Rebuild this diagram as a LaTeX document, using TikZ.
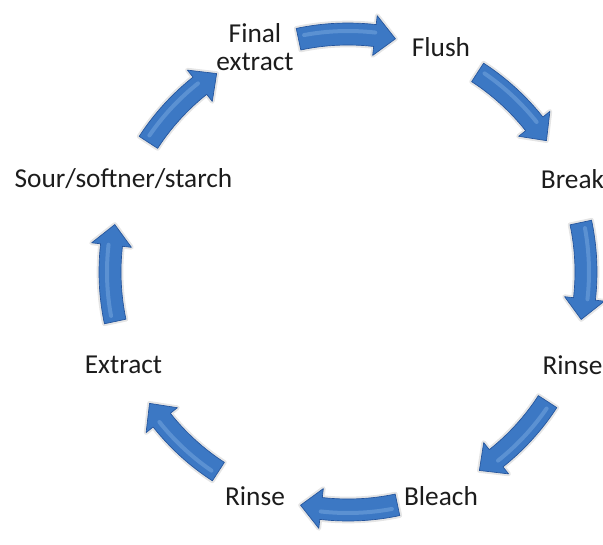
\documentclass[tikz,border=0pt]{standalone}
\usepackage{fontspec}
\setmainfont{Carlito}

\definecolor{arrowblue}{RGB}{60,120,196}
\definecolor{arrowdark}{RGB}{36,84,156}
\definecolor{arrowlight}{RGB}{150,192,238}
\definecolor{labeltext}{RGB}{28,28,28}

\tikzset{
  steplabel/.style={text=labeltext, font=\fontsize{20.5}{21}\selectfont, align=center, inner sep=0pt},
  arrowbody/.style={fill=arrowblue, draw=arrowdark, line width=0.5pt, line join=round},
  arrowglow/.style={draw=black!10, line width=3.5pt, line join=round},
  arrowshine/.style={draw=arrowlight, line width=3pt, opacity=0.35, line cap=round},
}

% outline of one curved block arrow (start, head base, tip angles)
\newcommand{\arrowoutline}{%
  (\as:249) arc[start angle=\as, end angle=\ah, radius=249] -- (\ah:258) -- (\at:238)
  -- (\ah:218) -- (\ah:227) arc[start angle=\ah, end angle=\as, radius=227] -- cycle}

% curved block arrow centred on angle #1, running clockwise
\newcommand{\cyclearrow}[1]{%
  \pgfmathsetmacro{\as}{#1+12}%
  \pgfmathsetmacro{\ah}{#1-6.5}%
  \pgfmathsetmacro{\at}{#1-11.5}%
  \pgfmathsetmacro{\am}{#1+10.5}%
  \path[arrowglow] \arrowoutline;
  \path[arrowbody] \arrowoutline;
  \path[arrowshine] (\am:241) arc[start angle=\am, end angle=\ah, radius=241];
}

\begin{document}
\begin{tikzpicture}[x=0.75pt, y=0.75pt]
  \useasboundingbox (-348,-272) rectangle (255,272);

  % the eight stages
  \node [steplabel] (final)   at (112.5:243) {Final\\extract};
  \node [steplabel] (flush)   at (67.5:243)  {Flush};
  \node [steplabel] (break)   at (22.5:243)  {Break};
  \node [steplabel] (rinseA)  at (-22.5:243) {Rinse};
  \node [steplabel] (bleach)  at (-67.5:243) {Bleach};
  \node [steplabel] (rinseB)  at (-112.5:243) {Rinse};
  \node [steplabel] (extract) at (-157.5:243) {Extract};
  \node [steplabel] (sour)    at (157.5:243) {Sour/softner/starch};

  % arrows between them
  \cyclearrow{90}
  \cyclearrow{45}
  \cyclearrow{0}
  \cyclearrow{-45}
  \cyclearrow{-90}
  \cyclearrow{-135}
  \cyclearrow{-180}
  \cyclearrow{135}
\end{tikzpicture}
\end{document}
